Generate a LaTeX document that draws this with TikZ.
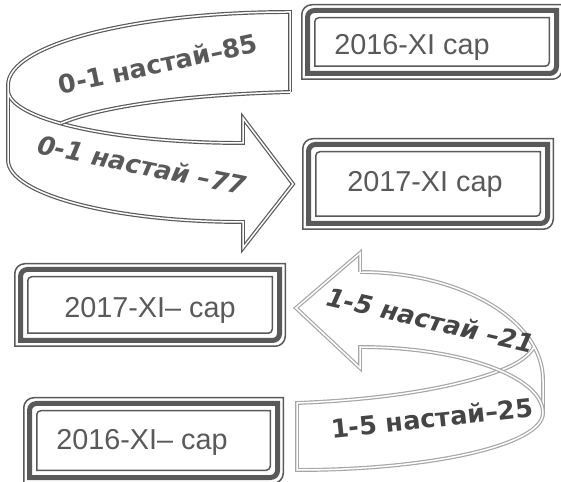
\documentclass[tikz,border=0pt]{standalone}
\usepackage{fontspec}
\newfontfamily\boxfont{Liberation Sans}
\newfontfamily\arrfont{DejaVu Sans}
\usetikzlibrary{calc}
\definecolor{dk}{HTML}{595959}
\definecolor{lt}{HTML}{A6A6A6}
\definecolor{tx}{HTML}{595959}
\definecolor{tx2}{HTML}{454545}
\tikzset{
  thinline/.style={draw=dk,line width=1.5pt},
  thickline/.style={draw=dk,line width=5pt},
  ribbondk/.style={draw=dk,double=white,line width=1.2pt,double distance=1.5pt},
  ribbonlt/.style={draw=lt,double=white,line width=1.2pt,double distance=1.5pt},
  boxtext/.style={font=\boxfont\fontsize{28.8}{30}\selectfont,text=tx,anchor=base,inner sep=0pt},
  arrtext/.style={font=\arrfont\bfseries\fontsize{25.5}{27}\selectfont,text=tx,inner sep=0pt},
  arrtextit/.style={font=\arrfont\bfseries\itshape\fontsize{25.5}{27}\selectfont,text=tx,inner sep=0pt},
}
\newcommand\rrpath[7]{%
 \draw[#7] ({#1+#5},{#4-#5-#6}) arc[start angle=180,end angle=90,radius=#6pt] -- ({#3-#5},{#4-#5}) -- ({#3-#5},{#2+#5+#6}) arc[start angle=0,end angle=-90,radius=#6pt] -- ({#1+#5},{#2+#5}) -- cycle;}
\newcommand\rrframe[4]{%
 \rrpath{#1}{#2}{#3}{#4}{0.75}{10}{thinline}
 \rrpath{#1}{#2}{#3}{#4}{6.5}{7}{thickline}
 \rrpath{#1}{#2}{#3}{#4}{13.75}{4}{thinline}}
\begin{document}
\begin{tikzpicture}[x=1pt,y=1pt]
\useasboundingbox (0,0) rectangle (561,481);
% ---- top ribbon arrow (dark)
\coordinate (twistA) at ($(243,391)+(219.1:235 and 53)$);
\draw[ribbondk] (290,389) -- (290,469)
  arc[start angle=90,end angle=180,x radius=282pt,y radius=73pt] -- (8,321)
  arc[start angle=180,end angle=270,x radius=235pt,y radius=62pt]
  -- (243,233) -- (293,297) -- (243,363) -- (243,338)
  arc[start angle=270,end angle=180,x radius=235pt,y radius=53pt];
\draw[ribbondk] (290,389) .. controls (180,386) and (100,374) .. (twistA);
% ---- bottom ribbon arrow (light)
\coordinate (endB) at ($(360,101)+(18:183 and 108)$);
\coordinate (twistB) at (500,110.5);
\draw[ribbonlt] (360,209)
  arc[start angle=90,end angle=0,x radius=183pt,y radius=108pt] -- (543,68)
  arc[start angle=0,end angle=-90,x radius=246pt,y radius=57pt] -- (297,78)
  .. controls (400,82) and (465,97) .. (twistB)
  .. controls (518,117) and (530,126) .. (endB);
\draw[ribbonlt] (360,209) -- (360,228) -- (296,173) -- (360,113) -- (360,134)
  arc[start angle=90,end angle=0,x radius=183pt,y radius=66pt];
% ---- arrow labels
\node[arrtext,rotate=12] (l85) at (158,417) {0-1 настай–85};
\node[arrtextit,rotate=-11.5] (l77) at (142,316) {0-1 настай –77};
\node[arrtextit,rotate=-13,text=tx2] (l21) at (431,161) {1-5 настай –21};
\node[arrtext,rotate=6,text=tx2] (l25) at (432,63) {1-5 настай–25};
% ---- boxes
\rrframe{301}{401}{563}{477}
\rrframe{302}{251}{554}{343}
\rrframe{14}{134}{286}{218}
\rrframe{23}{-3}{284}{84}
\node[boxtext] (b1) at (412,426) {2016-XI сар};
\node[boxtext] (b2) at (425,289) {2017-XI сар};
\node[boxtext] (b3) at (150,163) {2017-XI– сар};
\node[boxtext] (b4) at (142,31) {2016-XI– сар};
\end{tikzpicture}
\end{document}
